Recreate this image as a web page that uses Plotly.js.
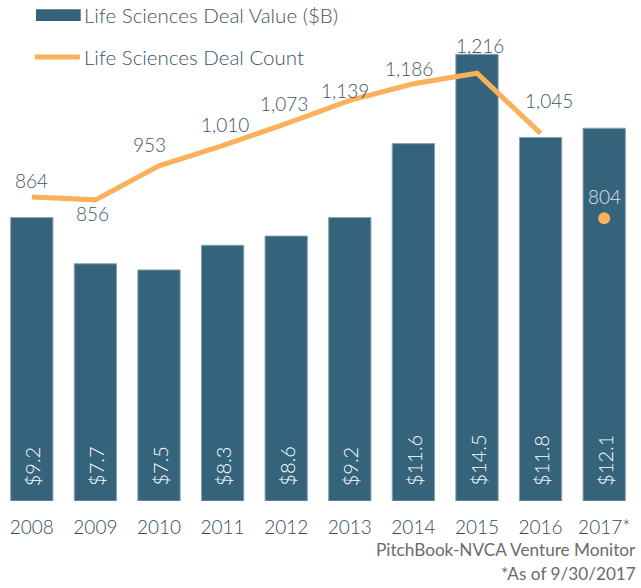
<!DOCTYPE html>
<html>
<head>
<meta charset="utf-8">
<script src="https://cdn.plot.ly/plotly-3.0.1.min.js"></script>
<style>html,body{margin:0;padding:0;background:#fff;}#chart{width:641px;height:588px;}</style>
</head>
<body>
<div id="chart"></div>
<script>
// ---- data ----
var years = [2008, 2009, 2010, 2011, 2012, 2013, 2014, 2015, 2016, 2017];
var yearLabels = ['2008','2009','2010','2011','2012','2013','2014','2015','2016','2017*'];
var dealValue = [9.2, 7.7, 7.5, 8.3, 8.6, 9.2, 11.6, 14.5, 11.8, 12.1];
var dealCount = [864, 856, 953, 1010, 1073, 1139, 1186, 1216, 1045, 804];
var lineYears = years.slice(0, 9);
var lineCounts = dealCount.slice(0, 9);
var partialYear = [years[9]];
var partialCount = [dealCount[9]];
var seriesNames = ['Life Sciences Deal Value ($B)', 'Life Sciences Deal Count'];
var sourceLines = ['PitchBook-NVCA Venture Monitor', '*As of 9/30/2017'];

// ---- styles ----
var barColor = '#36637C';
var lineColor = '#FBB05A';
var textColor = '#3E5468';
var FONT = 'Lato, "Open Sans", sans-serif';
var countShiftX = [0, -3, -10, 2, -2, -5, -4, 3, 8, 0];
var countShiftY = [17, -14, 21, 21, 20, 10, 15, 28, 33, 22];

var traces = [
  {type:'bar', x:years, y:dealValue, name:seriesNames[0], marker:{color:barColor, line:{color:'#8AA3B4', width:1}}, hoverinfo:'skip'},
  {type:'scatter', mode:'lines', x:lineYears, y:lineCounts, yaxis:'y2', name:seriesNames[1], line:{color:lineColor, width:5}, hoverinfo:'skip'},
  {type:'scatter', mode:'markers', x:partialYear, y:partialCount, yaxis:'y2', marker:{color:lineColor, size:12}, showlegend:false, hoverinfo:'skip'}
];

var annotations = [];
for (var i = 0; i < years.length; i++) {
  annotations.push({
    x: years[i], y: 0, xref:'x', yref:'y', text: '$' + dealValue[i].toFixed(1),
    textangle: -90, showarrow:false, xanchor:'center', yanchor:'bottom', yshift: 13,
    font:{family:FONT, size:20, color:'#FFFFFF', weight:300}
  });
  annotations.push({
    x: years[i], y: dealCount[i], xref:'x', yref:'y2', text: dealCount[i].toLocaleString('en-US'),
    showarrow:false, xanchor:'center', yanchor:'middle', xshift: countShiftX[i], yshift: countShiftY[i],
    font:{family:FONT, size:19, color: i === 9 ? '#DCE3E9' : textColor, weight:300}
  });
}
// manual legend text
annotations.push({x:0.1290, y:1.0104, xref:'paper', yref:'paper', text:seriesNames[0], showarrow:false, xanchor:'left', yanchor:'middle', font:{family:FONT, size:20.5, color:textColor, weight:300}});
annotations.push({x:0.1290, y:0.9231, xref:'paper', yref:'paper', text:seriesNames[1], showarrow:false, xanchor:'left', yanchor:'middle', font:{family:FONT, size:20.5, color:textColor, weight:300}});
// source
annotations.push({x:1.0030, y:-0.0998, xref:'paper', yref:'paper', text:sourceLines[0], showarrow:false, xanchor:'right', yanchor:'middle', font:{family:FONT, size:17.2, color:'#6B6B6B'}});
annotations.push({x:1.0030, y:-0.1503, xref:'paper', yref:'paper', text:sourceLines[1], showarrow:false, xanchor:'right', yanchor:'middle', font:{family:FONT, size:17.2, color:'#6B6B6B'}});

var shapes = [
  {type:'rect', xref:'paper', yref:'paper', x0:0.0566, x1:0.1269, y0:0.9979, y1:1.0222, fillcolor:barColor, line:{width:0}},
  {type:'line', xref:'paper', yref:'paper', x0:0.0550, x1:0.1255, y0:0.9231, y1:0.9231, line:{color:lineColor, width:5}}
];

var layout = {
  width:641, height:588,
  margin:{l:0, r:5, t:20, b:87, pad:0},
  paper_bgcolor:'#ffffff', plot_bgcolor:'#ffffff',
  showlegend:false,
  bargap:0.335,
  font:{family:FONT, color:textColor},
  xaxis:{range:[2007.5, 2017.5], tickvals:years, ticktext:yearLabels, showgrid:false, zeroline:false, showline:false, ticks:'',
         ticklabelstandoff:13,
         tickfont:{family:FONT, size:19, color:'#2F4A63', weight:300}, fixedrange:true},
  yaxis:{range:[0, 15.612], visible:false, fixedrange:true},
  yaxis2:{range:[0, 1367.3], overlaying:'y', side:'right', visible:false, fixedrange:true},
  annotations:annotations,
  shapes:shapes
};

Plotly.newPlot('chart', traces, layout, {displayModeBar:false, staticPlot:true});
</script>
</body>
</html>
